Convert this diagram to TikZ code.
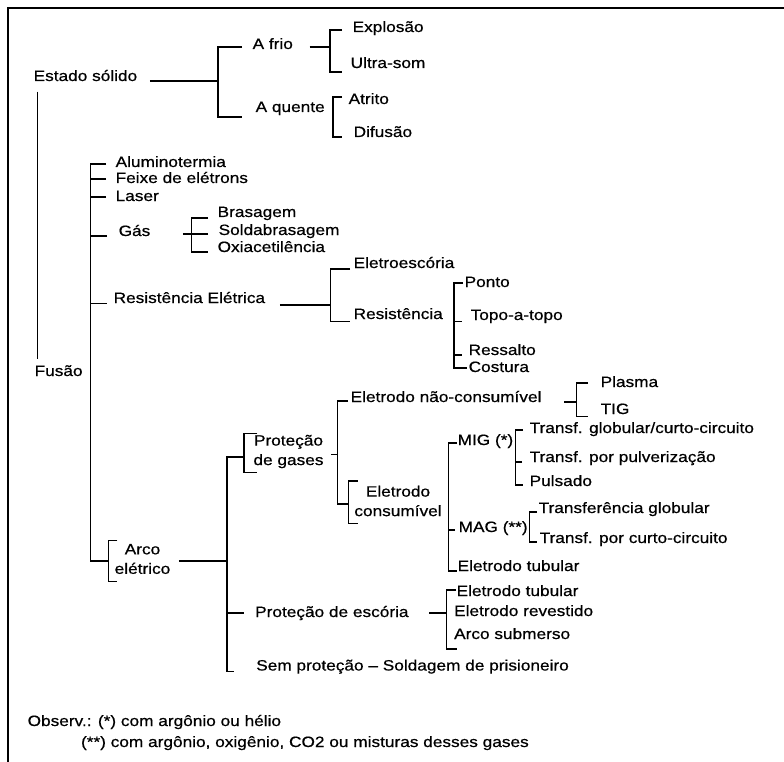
\documentclass[tikz,border=0pt]{standalone}
\usepackage{fontspec}
\setmainfont{Liberation Sans}[FakeStretch=1.15,FakeBold=0.6]
\newcommand\treefont{\fontsize{15pt}{19.5pt}\selectfont}
\begin{document}
\begin{tikzpicture}[x=1pt,y=-1pt,line width=1.3pt,font=\treefont,
    lbl/.style={anchor=west,inner sep=0pt,text height=11pt,text depth=3pt},
    lblc/.style={align=center,inner sep=0pt},
    framel/.style={line width=2pt}]
  \useasboundingbox (0,0) rectangle (784,762);
  \draw [framel] (784,8) -- (8,8) -- (8,762);
  % estado solido
  \node [lbl] (estado) at (33,77) {Estado sólido};
  \node [lbl] (afrio) at (252,45) {A frio};
  \node [lbl] (aquente) at (255,108) {A quente};
  \node [lbl] (explosao) at (352,28) {Explosão};
  \node [lbl] (ultrasom) at (350,64) {Ultra-som};
  \node [lbl] (atrito) at (348,100) {Atrito};
  \node [lbl] (difusao) at (353,133) {Difusão};
  % fusao
  \node [lbl] (fusao) at (34,372) {Fusão};
  \node [lbl] (alumino) at (115,163) {Aluminotermia};
  \node [lbl] (feixe) at (115,179) {Feixe de elétrons};
  \node [lbl] (laser) at (115,197) {Laser};
  \node [lbl] (gas) at (118,232) {Gás};
  \node [lbl] (brasagem) at (217,213) {Brasagem};
  \node [lbl] (soldabr) at (218,231) {Soldabrasagem};
  \node [lbl] (oxiac) at (217,248) {Oxiacetilência};
  \node [lbl] (reselet) at (113,299) {Resistência Elétrica};
  \node [lbl] (eletroesc) at (353,264) {Eletroescória};
  \node [lbl] (resist) at (353,315) {Resistência};
  \node [lbl] (ponto) at (464,283) {Ponto};
  \node [lbl] (topo) at (470,316) {Topo-a-topo};
  \node [lbl] (ressalto) at (468,351) {Ressalto};
  \node [lbl] (costura) at (468,368) {Costura};
  % arco eletrico
  \node [lblc] (arco) at (142.5,559) {Arco\\elétrico};
  \node [lblc] (protgas) at (288.5,451.5) {Proteção\\de gases};
  \node [lbl] (eletnc) at (350,398) {Eletrodo não-consumível};
  \node [lblc] (eletcons) at (398,501) {Eletrodo\\consumível};
  \node [lbl] (plasma) at (600,383) {Plasma};
  \node [lbl] (tig) at (600,410) {TIG};
  \node [lbl] (mig) at (457,441) {MIG (*)};
  \node [lbl] (mag) at (458,528) {MAG (**)};
  \node [lbl] (eltubA) at (457,567) {Eletrodo tubular};
  \node [lbl] (tglob) at (529,429) {Transf. globular/curto-circuito};
  \node [lbl] (tpulv) at (529,458) {Transf. por pulverização};
  \node [lbl] (pulsado) at (529,482) {Pulsado};
  \node [lbl] (tfglob) at (538,509) {Transferência globular};
  \node [lbl] (tcurto) at (539,539) {Transf. por curto-circuito};
  \node [lbl] (protesc) at (254.5,613) {Proteção de escória};
  \node [lbl] (eltubB) at (456,592) {Eletrodo tubular};
  \node [lbl] (elrev) at (453.5,612) {Eletrodo revestido};
  \node [lbl] (arcosub) at (453.5,635) {Arco submerso};
  \node [lbl] (semprot) at (255.6,666.5) {Sem proteção – Soldagem de prisioneiro};
  % observacoes
  \node [lbl] (obsA) at (27,722) {Observ.: (*) com argônio ou hélio};
  \node [lbl] (obsB) at (80.4,743) {(**) com argônio, oxigênio, CO2 ou misturas desses gases};
  % junctions
  \coordinate (jEst) at (218,81);
  \coordinate (jFrio) at (330,47);
  \coordinate (jQuente) at (333,117);
  \coordinate (jFus) at (90.7,561);
  \coordinate (jGas) at (191.7,234);
  \coordinate (jRe) at (330.7,305);
  \coordinate (jRes) at (454,320);
  \coordinate (bArco) at (108.3,561);
  \coordinate (jArc) at (227,561);
  \coordinate (bGas) at (244,457);
  \coordinate (jPg) at (337.3,454.5);
  \coordinate (bCons) at (348.3,504);
  \coordinate (jNc) at (576.7,402);
  \coordinate (jCons) at (448.3,530);
  \coordinate (jMig) at (515.7,458);
  \coordinate (jMag) at (529.3,527);
  \coordinate (jEsc) at (446.7,613);
  % estado solido
  \draw ([xshift=12pt,yshift=-4pt]estado.east) -- (jEst);
  \draw ([xshift=-10pt,yshift=-2pt]afrio.west) -| (jEst) |- ([xshift=-13pt,yshift=-9pt]aquente.west);
  \draw ([xshift=16pt,yshift=-2pt]afrio.east) -- (jFrio);
  \draw ([xshift=-10pt,yshift=-2pt]explosao.west) -| (jFrio) |- ([xshift=-8pt,yshift=-8pt]ultrasom.west);
  \draw ([xshift=-6pt,yshift=3pt]atrito.west) -| (jQuente) |- ([xshift=-11pt,yshift=-4pt]difusao.west);
  \draw ([xshift=4.7pt,yshift=-7pt]estado.south west) -- ([xshift=3.7pt,yshift=5pt]fusao.north west);
  % fusao
  \draw ([xshift=-9pt,yshift=-1pt]alumino.west) -| (jFus) -- (bArco);
  \draw ([xshift=-9pt]feixe.west) -| (jFus);
  \draw ([xshift=-9pt]laser.west) -| (jFus);
  \draw ([xshift=-11pt,yshift=-4pt]gas.west) -| (jFus);
  \draw ([xshift=-6.3pt,yshift=-4.5pt]reselet.west) -| (jFus);
  \draw ([xshift=32pt,yshift=-2pt]gas.east) -- (jGas);
  \draw ([xshift=-9pt,yshift=-5pt]brasagem.west) -| (jGas) |- ([xshift=-9pt,yshift=-4pt]oxiac.west);
  \draw ([xshift=-10pt,yshift=-3pt]soldabr.west) -| (jGas);
  \draw ([xshift=14pt,yshift=-6pt]reselet.east) -- (jRe);
  \draw ([xshift=-3pt,yshift=-5pt]eletroesc.west) -| (jRe) |- ([xshift=-3pt,yshift=-6.7pt]resist.west);
  \draw ([xshift=-1pt]ponto.west) -| (jRes) |- ([xshift=-1.3pt]costura.west);
  \draw ([xshift=-8.3pt,yshift=-5.7pt]topo.west) -| (jRes);
  \draw ([xshift=-6.3pt,yshift=-4pt]ressalto.west) -| (jRes);
  % arco eletrico
  \draw ([xshift=3.3pt,yshift=2.8pt]arco.north west) -| (bArco) |- ([xshift=3.3pt,yshift=-7pt]arco.south west);
  \draw ([xshift=8pt,yshift=-2pt]arco.east) -- (jArc);
  \draw (bGas) -| (jArc) |- ([xshift=-22pt,yshift=-5pt]semprot.west);
  \draw ([xshift=-11pt]protesc.west) -| (jArc);
  \draw ([xshift=4.5pt,yshift=1pt]protgas.north west) -| (bGas) |- ([xshift=4.5pt,yshift=-3.5pt]protgas.south west);
  \draw ([xshift=7pt,yshift=-3pt]protgas.east) -- (jPg);
  \draw ([xshift=-2pt,yshift=-3pt]eletnc.west) -| (jPg) |- (bCons);
  \draw ([xshift=4pt,yshift=4pt]eletcons.north west) -| (bCons) |- ([xshift=4pt,yshift=-6.5pt]eletcons.south west);
  \draw ([xshift=22pt,yshift=-4pt]eletnc.east) -- (jNc);
  \draw ([xshift=-12pt]plasma.west) -| (jNc) |- ([xshift=-12pt,yshift=-6.7pt]tig.west);
  \draw ([yshift=-2pt]mig.west) -| (jCons) |- ([yshift=-4pt]eltubA.west);
  \draw ([xshift=-3pt,yshift=-2pt]mag.west) -| (jCons);
  \draw ([xshift=-6pt,yshift=-1pt]tglob.west) -| (jMig) |- ([xshift=-6pt,yshift=-3pt]pulsado.west);
  \draw ([xshift=-7pt,yshift=-4pt]tpulv.west) -| (jMig);
  \draw ([xshift=-1pt,yshift=-3pt]tfglob.west) -| (jMag) |- ([xshift=-2pt,yshift=-3pt]tcurto.west);
  \draw ([xshift=20pt]protesc.east) -- (jEsc);
  \draw ([yshift=2pt]eltubB.west) -| (jEsc) |- ([xshift=3pt,yshift=-14pt]arcosub.west);
\end{tikzpicture}
\end{document}
